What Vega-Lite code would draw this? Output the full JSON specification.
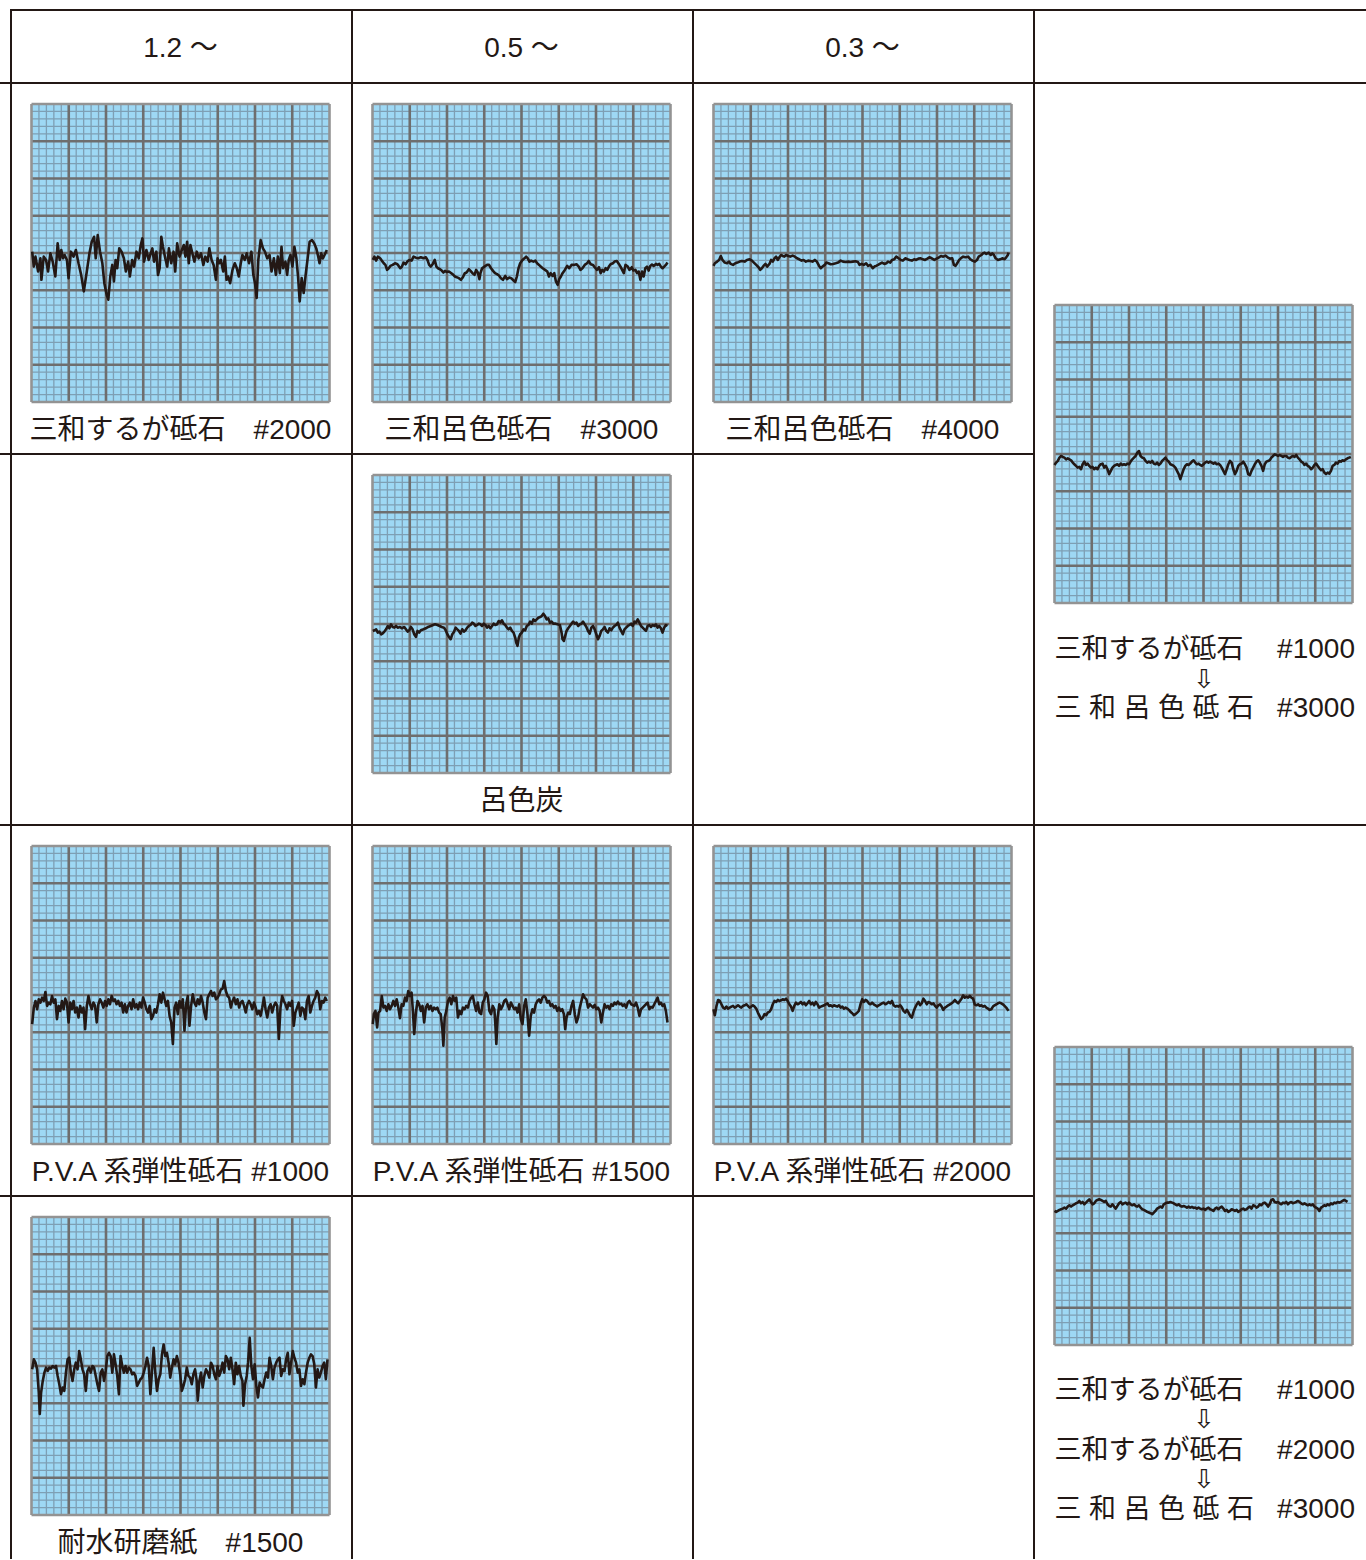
{
"$schema": "https://vega.github.io/schema/vega-lite/v6.json",
"background": "white",
"padding": {"left": 0, "top": 9, "right": 0, "bottom": 0},
"config": {"view": {"stroke": null}, "concat": {"spacing": 0}},
"datasets": {
"grid": [
{"x":22.5,"x2":22.5,"y":0,"y2":900,"k":"minor"},{"x":45,"x2":45,"y":0,"y2":900,"k":"minor"},{"x":67.5,"x2":67.5,"y":0,"y2":900,"k":"minor"},{"x":90,"x2":90,"y":0,"y2":900,"k":"minor"},
{"x":135,"x2":135,"y":0,"y2":900,"k":"minor"},{"x":157.5,"x2":157.5,"y":0,"y2":900,"k":"minor"},{"x":180,"x2":180,"y":0,"y2":900,"k":"minor"},{"x":202.5,"x2":202.5,"y":0,"y2":900,"k":"minor"},
{"x":247.5,"x2":247.5,"y":0,"y2":900,"k":"minor"},{"x":270,"x2":270,"y":0,"y2":900,"k":"minor"},{"x":292.5,"x2":292.5,"y":0,"y2":900,"k":"minor"},{"x":315,"x2":315,"y":0,"y2":900,"k":"minor"},
{"x":360,"x2":360,"y":0,"y2":900,"k":"minor"},{"x":382.5,"x2":382.5,"y":0,"y2":900,"k":"minor"},{"x":405,"x2":405,"y":0,"y2":900,"k":"minor"},{"x":427.5,"x2":427.5,"y":0,"y2":900,"k":"minor"},
{"x":472.5,"x2":472.5,"y":0,"y2":900,"k":"minor"},{"x":495,"x2":495,"y":0,"y2":900,"k":"minor"},{"x":517.5,"x2":517.5,"y":0,"y2":900,"k":"minor"},{"x":540,"x2":540,"y":0,"y2":900,"k":"minor"},
{"x":585,"x2":585,"y":0,"y2":900,"k":"minor"},{"x":607.5,"x2":607.5,"y":0,"y2":900,"k":"minor"},{"x":630,"x2":630,"y":0,"y2":900,"k":"minor"},{"x":652.5,"x2":652.5,"y":0,"y2":900,"k":"minor"},
{"x":697.5,"x2":697.5,"y":0,"y2":900,"k":"minor"},{"x":720,"x2":720,"y":0,"y2":900,"k":"minor"},{"x":742.5,"x2":742.5,"y":0,"y2":900,"k":"minor"},{"x":765,"x2":765,"y":0,"y2":900,"k":"minor"},
{"x":810,"x2":810,"y":0,"y2":900,"k":"minor"},{"x":832.5,"x2":832.5,"y":0,"y2":900,"k":"minor"},{"x":855,"x2":855,"y":0,"y2":900,"k":"minor"},{"x":877.5,"x2":877.5,"y":0,"y2":900,"k":"minor"},
{"y":22.5,"y2":22.5,"x":0,"x2":900,"k":"minor"},{"y":45,"y2":45,"x":0,"x2":900,"k":"minor"},{"y":67.5,"y2":67.5,"x":0,"x2":900,"k":"minor"},{"y":90,"y2":90,"x":0,"x2":900,"k":"minor"},
{"y":135,"y2":135,"x":0,"x2":900,"k":"minor"},{"y":157.5,"y2":157.5,"x":0,"x2":900,"k":"minor"},{"y":180,"y2":180,"x":0,"x2":900,"k":"minor"},{"y":202.5,"y2":202.5,"x":0,"x2":900,"k":"minor"},
{"y":247.5,"y2":247.5,"x":0,"x2":900,"k":"minor"},{"y":270,"y2":270,"x":0,"x2":900,"k":"minor"},{"y":292.5,"y2":292.5,"x":0,"x2":900,"k":"minor"},{"y":315,"y2":315,"x":0,"x2":900,"k":"minor"},
{"y":360,"y2":360,"x":0,"x2":900,"k":"minor"},{"y":382.5,"y2":382.5,"x":0,"x2":900,"k":"minor"},{"y":405,"y2":405,"x":0,"x2":900,"k":"minor"},{"y":427.5,"y2":427.5,"x":0,"x2":900,"k":"minor"},
{"y":472.5,"y2":472.5,"x":0,"x2":900,"k":"minor"},{"y":495,"y2":495,"x":0,"x2":900,"k":"minor"},{"y":517.5,"y2":517.5,"x":0,"x2":900,"k":"minor"},{"y":540,"y2":540,"x":0,"x2":900,"k":"minor"},
{"y":585,"y2":585,"x":0,"x2":900,"k":"minor"},{"y":607.5,"y2":607.5,"x":0,"x2":900,"k":"minor"},{"y":630,"y2":630,"x":0,"x2":900,"k":"minor"},{"y":652.5,"y2":652.5,"x":0,"x2":900,"k":"minor"},
{"y":697.5,"y2":697.5,"x":0,"x2":900,"k":"minor"},{"y":720,"y2":720,"x":0,"x2":900,"k":"minor"},{"y":742.5,"y2":742.5,"x":0,"x2":900,"k":"minor"},{"y":765,"y2":765,"x":0,"x2":900,"k":"minor"},
{"y":810,"y2":810,"x":0,"x2":900,"k":"minor"},{"y":832.5,"y2":832.5,"x":0,"x2":900,"k":"minor"},{"y":855,"y2":855,"x":0,"x2":900,"k":"minor"},{"y":877.5,"y2":877.5,"x":0,"x2":900,"k":"minor"},
{"x":112.5,"x2":112.5,"y":0,"y2":900,"k":"major"},{"x":225,"x2":225,"y":0,"y2":900,"k":"major"},{"x":337.5,"x2":337.5,"y":0,"y2":900,"k":"major"},{"x":450,"x2":450,"y":0,"y2":900,"k":"major"},{"x":562.5,"x2":562.5,"y":0,"y2":900,"k":"major"},{"x":675,"x2":675,"y":0,"y2":900,"k":"major"},{"x":787.5,"x2":787.5,"y":0,"y2":900,"k":"major"},
{"y":112.5,"y2":112.5,"x":0,"x2":900,"k":"major"},{"y":225,"y2":225,"x":0,"x2":900,"k":"major"},{"y":337.5,"y2":337.5,"x":0,"x2":900,"k":"major"},{"y":450,"y2":450,"x":0,"x2":900,"k":"major"},{"y":562.5,"y2":562.5,"x":0,"x2":900,"k":"major"},{"y":675,"y2":675,"x":0,"x2":900,"k":"major"},{"y":787.5,"y2":787.5,"x":0,"x2":900,"k":"major"},
{"x":0,"x2":0,"y":0,"y2":900,"k":"edge"},{"x":900,"x2":900,"y":0,"y2":900,"k":"edge"},{"y":0,"y2":0,"x":0,"x2":900,"k":"edge"},{"y":900,"y2":900,"x":0,"x2":900,"k":"edge"}
],
"t1": [{"x":2,"y":454},{"x":7,"y":409},{"x":12,"y":439},{"x":20,"y":394},{"x":27,"y":434},{"x":30,"y":369},{"x":37,"y":439},{"x":44,"y":429},{"x":50,"y":394},{"x":57,"y":449},{"x":64,"y":424},{"x":72,"y":379},{"x":79,"y":479},{"x":85,"y":429},{"x":90,"y":459},{"x":95,"y":434},{"x":100,"y":444},{"x":107,"y":429},{"x":112,"y":374},{"x":119,"y":454},{"x":127,"y":439},{"x":134,"y":459},{"x":142,"y":419},{"x":150,"y":384},{"x":158,"y":334},{"x":167,"y":394},{"x":175,"y":449},{"x":182,"y":484},{"x":189,"y":499},{"x":194,"y":434},{"x":200,"y":504},{"x":207,"y":454},{"x":214,"y":419},{"x":220,"y":359},{"x":227,"y":324},{"x":232,"y":309},{"x":238,"y":379},{"x":244,"y":414},{"x":249,"y":364},{"x":254,"y":429},{"x":259,"y":404},{"x":265,"y":464},{"x":272,"y":454},{"x":279,"y":434},{"x":285,"y":394},{"x":292,"y":424},{"x":297,"y":379},{"x":304,"y":429},{"x":310,"y":409},{"x":317,"y":454},{"x":324,"y":434},{"x":330,"y":474},{"x":335,"y":494},{"x":340,"y":424},{"x":347,"y":459},{"x":354,"y":429},{"x":360,"y":449},{"x":365,"y":464},{"x":370,"y":424},{"x":377,"y":454},{"x":382,"y":384},{"x":387,"y":404},{"x":392,"y":499},{"x":397,"y":469},{"x":404,"y":434},{"x":410,"y":409},{"x":415,"y":464},{"x":422,"y":419},{"x":429,"y":454},{"x":434,"y":394},{"x":440,"y":479},{"x":447,"y":439},{"x":454,"y":459},{"x":460,"y":474},{"x":465,"y":439},{"x":470,"y":484},{"x":475,"y":419},{"x":480,"y":474},{"x":487,"y":444},{"x":492,"y":424},{"x":499,"y":454},{"x":505,"y":434},{"x":512,"y":449},{"x":519,"y":414},{"x":525,"y":439},{"x":532,"y":424},{"x":537,"y":464},{"x":544,"y":429},{"x":550,"y":414},{"x":557,"y":369},{"x":562,"y":434},{"x":567,"y":419},{"x":572,"y":429},{"x":579,"y":394},{"x":584,"y":439},{"x":589,"y":369},{"x":594,"y":379},{"x":600,"y":359},{"x":607,"y":399},{"x":614,"y":419},{"x":620,"y":404},{"x":626,"y":379},{"x":632,"y":419},{"x":637,"y":444},{"x":644,"y":429},{"x":650,"y":449},{"x":657,"y":419},{"x":664,"y":454},{"x":670,"y":384},{"x":675,"y":359},{"x":680,"y":314},{"x":685,"y":429},{"x":692,"y":489},{"x":699,"y":464},{"x":705,"y":454},{"x":712,"y":434},{"x":719,"y":444},{"x":725,"y":394},{"x":732,"y":434},{"x":738,"y":384},{"x":744,"y":439},{"x":750,"y":389},{"x":755,"y":469},{"x":760,"y":404},{"x":767,"y":424},{"x":772,"y":384},{"x":777,"y":429},{"x":782,"y":444},{"x":788,"y":409},{"x":794,"y":469},{"x":800,"y":434},{"x":805,"y":379},{"x":810,"y":304},{"x":816,"y":374},{"x":822,"y":329},{"x":828,"y":384},{"x":834,"y":434},{"x":840,"y":484},{"x":847,"y":489},{"x":854,"y":479},{"x":860,"y":464},{"x":866,"y":439},{"x":870,"y":419},{"x":875,"y":449},{"x":880,"y":434},{"x":885,"y":444},{"x":892,"y":459}],
"t2": [{"x":1,"y":429},{"x":6,"y":439},{"x":11,"y":427},{"x":16,"y":439},{"x":23,"y":434},{"x":28,"y":427},{"x":34,"y":419},{"x":39,"y":414},{"x":44,"y":399},{"x":49,"y":404},{"x":54,"y":411},{"x":61,"y":414},{"x":68,"y":419},{"x":74,"y":417},{"x":79,"y":411},{"x":84,"y":404},{"x":89,"y":409},{"x":94,"y":421},{"x":100,"y":416},{"x":105,"y":424},{"x":111,"y":429},{"x":118,"y":427},{"x":124,"y":439},{"x":131,"y":436},{"x":138,"y":434},{"x":146,"y":437},{"x":154,"y":434},{"x":161,"y":437},{"x":166,"y":429},{"x":171,"y":414},{"x":176,"y":409},{"x":182,"y":417},{"x":188,"y":429},{"x":193,"y":409},{"x":198,"y":404},{"x":204,"y":401},{"x":209,"y":397},{"x":214,"y":391},{"x":219,"y":396},{"x":224,"y":393},{"x":231,"y":394},{"x":238,"y":389},{"x":244,"y":384},{"x":249,"y":379},{"x":254,"y":377},{"x":261,"y":374},{"x":267,"y":369},{"x":273,"y":377},{"x":279,"y":389},{"x":284,"y":391},{"x":291,"y":401},{"x":296,"y":396},{"x":302,"y":389},{"x":308,"y":384},{"x":313,"y":399},{"x":318,"y":391},{"x":323,"y":371},{"x":326,"y":389},{"x":331,"y":404},{"x":338,"y":409},{"x":346,"y":414},{"x":352,"y":414},{"x":358,"y":404},{"x":364,"y":396},{"x":370,"y":389},{"x":376,"y":386},{"x":382,"y":382},{"x":388,"y":374},{"x":394,"y":369},{"x":401,"y":381},{"x":406,"y":371},{"x":413,"y":376},{"x":419,"y":374},{"x":426,"y":367},{"x":431,"y":362},{"x":436,"y":379},{"x":441,"y":404},{"x":446,"y":419},{"x":453,"y":429},{"x":459,"y":434},{"x":464,"y":439},{"x":469,"y":434},{"x":474,"y":424},{"x":479,"y":427},{"x":486,"y":424},{"x":492,"y":427},{"x":497,"y":419},{"x":503,"y":414},{"x":508,"y":409},{"x":514,"y":404},{"x":521,"y":399},{"x":528,"y":394},{"x":533,"y":379},{"x":538,"y":389},{"x":544,"y":381},{"x":549,"y":389},{"x":554,"y":364},{"x":559,"y":354},{"x":564,"y":371},{"x":569,"y":379},{"x":574,"y":389},{"x":581,"y":399},{"x":588,"y":411},{"x":594,"y":404},{"x":601,"y":414},{"x":608,"y":414},{"x":616,"y":416},{"x":623,"y":409},{"x":628,"y":399},{"x":634,"y":404},{"x":641,"y":414},{"x":648,"y":419},{"x":653,"y":426},{"x":659,"y":416},{"x":666,"y":414},{"x":671,"y":407},{"x":678,"y":399},{"x":684,"y":407},{"x":689,"y":389},{"x":694,"y":399},{"x":699,"y":394},{"x":704,"y":404},{"x":709,"y":399},{"x":714,"y":409},{"x":719,"y":416},{"x":726,"y":419},{"x":731,"y":424},{"x":738,"y":426},{"x":744,"y":417},{"x":749,"y":409},{"x":754,"y":399},{"x":759,"y":389},{"x":764,"y":414},{"x":771,"y":409},{"x":776,"y":399},{"x":783,"y":407},{"x":788,"y":397},{"x":794,"y":399},{"x":799,"y":389},{"x":804,"y":394},{"x":809,"y":369},{"x":814,"y":394},{"x":819,"y":379},{"x":824,"y":404},{"x":829,"y":409},{"x":834,"y":397},{"x":839,"y":411},{"x":844,"y":415},{"x":849,"y":411},{"x":856,"y":417},{"x":861,"y":414},{"x":866,"y":417},{"x":871,"y":409},{"x":876,"y":404},{"x":881,"y":409},{"x":886,"y":414},{"x":891,"y":421}],
"t3": [{"x":0,"y":411},{"x":4,"y":419},{"x":11,"y":424},{"x":17,"y":429},{"x":22,"y":441},{"x":27,"y":429},{"x":34,"y":421},{"x":41,"y":419},{"x":47,"y":424},{"x":52,"y":417},{"x":59,"y":414},{"x":66,"y":419},{"x":72,"y":421},{"x":79,"y":424},{"x":86,"y":426},{"x":94,"y":424},{"x":101,"y":429},{"x":109,"y":431},{"x":116,"y":427},{"x":122,"y":421},{"x":129,"y":414},{"x":136,"y":407},{"x":141,"y":399},{"x":146,"y":404},{"x":151,"y":411},{"x":157,"y":417},{"x":162,"y":409},{"x":169,"y":417},{"x":174,"y":429},{"x":179,"y":424},{"x":184,"y":434},{"x":189,"y":439},{"x":194,"y":429},{"x":199,"y":437},{"x":204,"y":444},{"x":209,"y":441},{"x":214,"y":439},{"x":219,"y":444},{"x":226,"y":441},{"x":232,"y":439},{"x":239,"y":442},{"x":246,"y":439},{"x":252,"y":434},{"x":259,"y":431},{"x":266,"y":427},{"x":272,"y":429},{"x":279,"y":424},{"x":286,"y":427},{"x":292,"y":426},{"x":299,"y":424},{"x":306,"y":429},{"x":312,"y":424},{"x":319,"y":411},{"x":324,"y":404},{"x":329,"y":409},{"x":336,"y":414},{"x":341,"y":421},{"x":347,"y":419},{"x":354,"y":416},{"x":361,"y":417},{"x":369,"y":419},{"x":376,"y":421},{"x":384,"y":427},{"x":391,"y":424},{"x":399,"y":423},{"x":407,"y":424},{"x":414,"y":423},{"x":421,"y":424},{"x":429,"y":425},{"x":436,"y":423},{"x":441,"y":414},{"x":447,"y":417},{"x":454,"y":414},{"x":461,"y":419},{"x":467,"y":411},{"x":474,"y":414},{"x":481,"y":404},{"x":486,"y":409},{"x":491,"y":411},{"x":497,"y":414},{"x":502,"y":417},{"x":509,"y":421},{"x":516,"y":417},{"x":522,"y":419},{"x":527,"y":424},{"x":534,"y":421},{"x":539,"y":429},{"x":546,"y":431},{"x":552,"y":439},{"x":559,"y":434},{"x":566,"y":429},{"x":572,"y":427},{"x":579,"y":434},{"x":586,"y":431},{"x":592,"y":429},{"x":599,"y":427},{"x":606,"y":431},{"x":612,"y":429},{"x":619,"y":433},{"x":626,"y":434},{"x":632,"y":431},{"x":639,"y":429},{"x":646,"y":433},{"x":652,"y":437},{"x":659,"y":434},{"x":667,"y":429},{"x":674,"y":433},{"x":681,"y":437},{"x":687,"y":441},{"x":694,"y":439},{"x":701,"y":442},{"x":707,"y":437},{"x":714,"y":433},{"x":721,"y":434},{"x":726,"y":414},{"x":731,"y":411},{"x":736,"y":419},{"x":742,"y":429},{"x":747,"y":434},{"x":754,"y":439},{"x":761,"y":437},{"x":769,"y":439},{"x":776,"y":431},{"x":782,"y":427},{"x":789,"y":424},{"x":796,"y":429},{"x":801,"y":439},{"x":809,"y":444},{"x":814,"y":449},{"x":819,"y":451},{"x":824,"y":447},{"x":831,"y":451},{"x":837,"y":444},{"x":842,"y":449},{"x":847,"y":444},{"x":852,"y":434},{"x":859,"y":429},{"x":866,"y":431},{"x":872,"y":434},{"x":879,"y":431},{"x":884,"y":437},{"x":889,"y":444},{"x":891,"y":451}],
"t4": [{"x":1,"y":429},{"x":6,"y":431},{"x":11,"y":434},{"x":16,"y":424},{"x":21,"y":427},{"x":26,"y":419},{"x":31,"y":422},{"x":36,"y":427},{"x":41,"y":434},{"x":46,"y":444},{"x":51,"y":437},{"x":56,"y":449},{"x":61,"y":441},{"x":66,"y":439},{"x":71,"y":444},{"x":76,"y":439},{"x":83,"y":441},{"x":89,"y":437},{"x":96,"y":441},{"x":101,"y":434},{"x":106,"y":427},{"x":111,"y":431},{"x":116,"y":441},{"x":121,"y":434},{"x":126,"y":419},{"x":131,"y":411},{"x":136,"y":429},{"x":141,"y":424},{"x":146,"y":431},{"x":154,"y":434},{"x":161,"y":437},{"x":168,"y":441},{"x":176,"y":444},{"x":183,"y":447},{"x":189,"y":449},{"x":196,"y":447},{"x":203,"y":444},{"x":209,"y":441},{"x":216,"y":439},{"x":221,"y":431},{"x":226,"y":419},{"x":231,"y":411},{"x":236,"y":404},{"x":241,"y":419},{"x":246,"y":426},{"x":251,"y":439},{"x":256,"y":434},{"x":261,"y":429},{"x":266,"y":421},{"x":271,"y":434},{"x":276,"y":427},{"x":281,"y":431},{"x":286,"y":439},{"x":291,"y":444},{"x":296,"y":447},{"x":301,"y":454},{"x":306,"y":451},{"x":311,"y":444},{"x":316,"y":447},{"x":321,"y":451},{"x":326,"y":449},{"x":331,"y":444},{"x":336,"y":451},{"x":341,"y":447},{"x":346,"y":439},{"x":351,"y":444},{"x":356,"y":437},{"x":361,"y":444},{"x":366,"y":451},{"x":371,"y":447},{"x":376,"y":449},{"x":381,"y":459},{"x":386,"y":454},{"x":391,"y":461},{"x":396,"y":451},{"x":401,"y":447},{"x":406,"y":439},{"x":411,"y":434},{"x":416,"y":439},{"x":421,"y":429},{"x":426,"y":424},{"x":431,"y":409},{"x":434,"y":394},{"x":438,"y":384},{"x":442,"y":409},{"x":446,"y":419},{"x":451,"y":424},{"x":456,"y":434},{"x":461,"y":431},{"x":466,"y":444},{"x":471,"y":447},{"x":476,"y":457},{"x":481,"y":451},{"x":486,"y":464},{"x":491,"y":459},{"x":496,"y":464},{"x":501,"y":469},{"x":506,"y":471},{"x":511,"y":474},{"x":516,"y":481},{"x":521,"y":474},{"x":526,"y":464},{"x":531,"y":467},{"x":536,"y":454},{"x":541,"y":457},{"x":546,"y":451},{"x":553,"y":451},{"x":559,"y":449},{"x":566,"y":447},{"x":571,"y":424},{"x":574,"y":404},{"x":578,"y":399},{"x":582,"y":414},{"x":586,"y":429},{"x":591,"y":437},{"x":596,"y":444},{"x":601,"y":451},{"x":606,"y":457},{"x":611,"y":451},{"x":616,"y":454},{"x":621,"y":444},{"x":626,"y":449},{"x":631,"y":451},{"x":636,"y":457},{"x":641,"y":449},{"x":646,"y":441},{"x":651,"y":429},{"x":656,"y":421},{"x":661,"y":439},{"x":666,"y":444},{"x":671,"y":434},{"x":676,"y":419},{"x":681,"y":404},{"x":686,"y":414},{"x":691,"y":429},{"x":696,"y":434},{"x":701,"y":441},{"x":706,"y":429},{"x":711,"y":424},{"x":716,"y":437},{"x":721,"y":431},{"x":726,"y":439},{"x":731,"y":444},{"x":736,"y":447},{"x":741,"y":454},{"x":746,"y":439},{"x":751,"y":429},{"x":756,"y":419},{"x":761,"y":434},{"x":766,"y":439},{"x":771,"y":444},{"x":776,"y":447},{"x":781,"y":451},{"x":786,"y":444},{"x":791,"y":457},{"x":796,"y":454},{"x":801,"y":464},{"x":806,"y":454},{"x":811,"y":444},{"x":816,"y":439},{"x":821,"y":434},{"x":826,"y":429},{"x":831,"y":444},{"x":836,"y":447},{"x":841,"y":441},{"x":846,"y":447},{"x":851,"y":444},{"x":856,"y":449},{"x":861,"y":439},{"x":866,"y":444},{"x":871,"y":437},{"x":876,"y":424},{"x":881,"y":439},{"x":886,"y":447},{"x":891,"y":444}],
"t5": [{"x":2,"y":362},{"x":7,"y":412},{"x":12,"y":432},{"x":17,"y":407},{"x":22,"y":437},{"x":27,"y":427},{"x":32,"y":442},{"x":37,"y":432},{"x":42,"y":459},{"x":47,"y":417},{"x":52,"y":427},{"x":57,"y":422},{"x":62,"y":447},{"x":67,"y":427},{"x":72,"y":437},{"x":77,"y":377},{"x":82,"y":417},{"x":87,"y":402},{"x":92,"y":432},{"x":97,"y":407},{"x":102,"y":439},{"x":107,"y":427},{"x":112,"y":367},{"x":117,"y":427},{"x":122,"y":407},{"x":127,"y":432},{"x":132,"y":397},{"x":137,"y":412},{"x":142,"y":382},{"x":147,"y":417},{"x":152,"y":397},{"x":157,"y":412},{"x":162,"y":347},{"x":167,"y":417},{"x":172,"y":447},{"x":177,"y":422},{"x":182,"y":407},{"x":187,"y":427},{"x":192,"y":417},{"x":197,"y":367},{"x":202,"y":422},{"x":207,"y":437},{"x":212,"y":427},{"x":217,"y":412},{"x":222,"y":432},{"x":227,"y":417},{"x":232,"y":437},{"x":237,"y":422},{"x":242,"y":447},{"x":247,"y":432},{"x":252,"y":437},{"x":257,"y":422},{"x":262,"y":432},{"x":267,"y":417},{"x":272,"y":427},{"x":277,"y":397},{"x":282,"y":422},{"x":287,"y":397},{"x":292,"y":417},{"x":297,"y":427},{"x":302,"y":407},{"x":307,"y":437},{"x":312,"y":412},{"x":317,"y":422},{"x":322,"y":407},{"x":327,"y":427},{"x":332,"y":412},{"x":337,"y":442},{"x":342,"y":427},{"x":347,"y":407},{"x":352,"y":397},{"x":357,"y":417},{"x":362,"y":377},{"x":367,"y":387},{"x":372,"y":407},{"x":377,"y":397},{"x":382,"y":422},{"x":387,"y":452},{"x":392,"y":427},{"x":397,"y":457},{"x":402,"y":437},{"x":407,"y":417},{"x":412,"y":432},{"x":417,"y":387},{"x":422,"y":367},{"x":427,"y":302},{"x":432,"y":412},{"x":437,"y":427},{"x":442,"y":392},{"x":447,"y":432},{"x":452,"y":412},{"x":457,"y":437},{"x":462,"y":342},{"x":467,"y":422},{"x":472,"y":447},{"x":477,"y":357},{"x":482,"y":417},{"x":487,"y":452},{"x":492,"y":427},{"x":497,"y":417},{"x":502,"y":437},{"x":507,"y":422},{"x":512,"y":447},{"x":517,"y":427},{"x":522,"y":397},{"x":527,"y":377},{"x":532,"y":442},{"x":537,"y":452},{"x":542,"y":462},{"x":547,"y":447},{"x":552,"y":457},{"x":557,"y":437},{"x":562,"y":442},{"x":567,"y":452},{"x":572,"y":467},{"x":577,"y":469},{"x":582,"y":492},{"x":587,"y":462},{"x":592,"y":447},{"x":597,"y":442},{"x":602,"y":412},{"x":607,"y":432},{"x":612,"y":442},{"x":617,"y":422},{"x":622,"y":437},{"x":627,"y":412},{"x":632,"y":427},{"x":637,"y":432},{"x":642,"y":417},{"x":647,"y":397},{"x":652,"y":422},{"x":657,"y":432},{"x":662,"y":422},{"x":667,"y":407},{"x":672,"y":427},{"x":677,"y":412},{"x":682,"y":392},{"x":687,"y":402},{"x":692,"y":387},{"x":697,"y":412},{"x":702,"y":442},{"x":707,"y":407},{"x":712,"y":382},{"x":717,"y":412},{"x":722,"y":422},{"x":727,"y":397},{"x":732,"y":417},{"x":737,"y":427},{"x":742,"y":417},{"x":747,"y":317},{"x":752,"y":412},{"x":757,"y":447},{"x":762,"y":432},{"x":767,"y":422},{"x":772,"y":407},{"x":777,"y":427},{"x":782,"y":417},{"x":787,"y":432},{"x":792,"y":357},{"x":797,"y":397},{"x":802,"y":412},{"x":807,"y":427},{"x":812,"y":387},{"x":817,"y":412},{"x":822,"y":407},{"x":827,"y":377},{"x":832,"y":432},{"x":837,"y":447},{"x":842,"y":397},{"x":847,"y":417},{"x":852,"y":432},{"x":857,"y":442},{"x":862,"y":462},{"x":867,"y":452},{"x":872,"y":407},{"x":877,"y":432},{"x":882,"y":427},{"x":887,"y":442},{"x":892,"y":432}],
"t6": [{"x":1,"y":362},{"x":4,"y":392},{"x":9,"y":402},{"x":14,"y":352},{"x":18,"y":397},{"x":23,"y":402},{"x":28,"y":447},{"x":33,"y":412},{"x":38,"y":417},{"x":43,"y":402},{"x":48,"y":422},{"x":53,"y":407},{"x":58,"y":417},{"x":63,"y":432},{"x":68,"y":417},{"x":73,"y":437},{"x":78,"y":412},{"x":83,"y":380},{"x":88,"y":422},{"x":93,"y":417},{"x":98,"y":442},{"x":103,"y":432},{"x":108,"y":462},{"x":113,"y":447},{"x":118,"y":457},{"x":122,"y":402},{"x":126,"y":332},{"x":131,"y":397},{"x":136,"y":432},{"x":141,"y":422},{"x":146,"y":402},{"x":151,"y":417},{"x":156,"y":367},{"x":161,"y":412},{"x":166,"y":422},{"x":171,"y":407},{"x":176,"y":417},{"x":181,"y":402},{"x":186,"y":412},{"x":191,"y":407},{"x":196,"y":412},{"x":201,"y":397},{"x":206,"y":392},{"x":211,"y":347},{"x":214,"y":297},{"x":218,"y":382},{"x":223,"y":402},{"x":228,"y":432},{"x":233,"y":442},{"x":238,"y":422},{"x":243,"y":447},{"x":248,"y":432},{"x":253,"y":442},{"x":258,"y":382},{"x":263,"y":402},{"x":268,"y":392},{"x":273,"y":412},{"x":278,"y":407},{"x":283,"y":417},{"x":288,"y":412},{"x":293,"y":432},{"x":298,"y":442},{"x":303,"y":447},{"x":308,"y":422},{"x":313,"y":402},{"x":318,"y":427},{"x":323,"y":397},{"x":328,"y":392},{"x":333,"y":427},{"x":338,"y":437},{"x":343,"y":457},{"x":348,"y":447},{"x":353,"y":402},{"x":358,"y":392},{"x":363,"y":417},{"x":368,"y":407},{"x":371,"y":362},{"x":374,"y":302},{"x":378,"y":382},{"x":383,"y":422},{"x":388,"y":407},{"x":393,"y":417},{"x":398,"y":432},{"x":403,"y":437},{"x":408,"y":422},{"x":413,"y":407},{"x":418,"y":427},{"x":423,"y":417},{"x":428,"y":407},{"x":433,"y":412},{"x":438,"y":397},{"x":443,"y":422},{"x":448,"y":377},{"x":453,"y":362},{"x":458,"y":417},{"x":463,"y":437},{"x":468,"y":392},{"x":473,"y":327},{"x":478,"y":387},{"x":483,"y":407},{"x":488,"y":397},{"x":493,"y":422},{"x":498,"y":432},{"x":503,"y":437},{"x":508,"y":427},{"x":513,"y":442},{"x":518,"y":447},{"x":523,"y":442},{"x":528,"y":427},{"x":533,"y":432},{"x":538,"y":417},{"x":543,"y":422},{"x":548,"y":412},{"x":553,"y":417},{"x":558,"y":402},{"x":563,"y":412},{"x":568,"y":402},{"x":573,"y":407},{"x":578,"y":392},{"x":582,"y":347},{"x":586,"y":382},{"x":591,"y":397},{"x":596,"y":392},{"x":601,"y":417},{"x":606,"y":432},{"x":611,"y":392},{"x":616,"y":367},{"x":621,"y":382},{"x":626,"y":412},{"x":631,"y":432},{"x":636,"y":452},{"x":641,"y":442},{"x":646,"y":437},{"x":651,"y":412},{"x":656,"y":422},{"x":661,"y":417},{"x":666,"y":412},{"x":671,"y":420},{"x":676,"y":407},{"x":681,"y":412},{"x":686,"y":402},{"x":691,"y":367},{"x":696,"y":397},{"x":701,"y":422},{"x":706,"y":412},{"x":711,"y":417},{"x":716,"y":407},{"x":721,"y":422},{"x":726,"y":417},{"x":731,"y":427},{"x":736,"y":422},{"x":741,"y":430},{"x":746,"y":422},{"x":751,"y":424},{"x":756,"y":417},{"x":761,"y":422},{"x":766,"y":412},{"x":771,"y":427},{"x":776,"y":432},{"x":781,"y":422},{"x":786,"y":420},{"x":791,"y":417},{"x":796,"y":427},{"x":801,"y":412},{"x":806,"y":387},{"x":811,"y":407},{"x":816,"y":412},{"x":821,"y":417},{"x":826,"y":422},{"x":831,"y":427},{"x":836,"y":407},{"x":841,"y":414},{"x":846,"y":412},{"x":851,"y":422},{"x":856,"y":432},{"x":861,"y":442},{"x":866,"y":422},{"x":871,"y":427},{"x":876,"y":417},{"x":881,"y":422},{"x":886,"y":402},{"x":891,"y":367}],
"t7": [{"x":0,"y":407},{"x":4,"y":389},{"x":9,"y":417},{"x":14,"y":435},{"x":19,"y":432},{"x":24,"y":422},{"x":29,"y":412},{"x":34,"y":409},{"x":39,"y":415},{"x":44,"y":409},{"x":49,"y":412},{"x":54,"y":415},{"x":59,"y":417},{"x":64,"y":412},{"x":69,"y":415},{"x":74,"y":419},{"x":79,"y":415},{"x":84,"y":412},{"x":89,"y":417},{"x":94,"y":419},{"x":99,"y":422},{"x":104,"y":417},{"x":109,"y":412},{"x":114,"y":415},{"x":119,"y":419},{"x":124,"y":415},{"x":129,"y":409},{"x":134,"y":397},{"x":139,"y":387},{"x":144,"y":377},{"x":149,"y":382},{"x":154,"y":392},{"x":159,"y":389},{"x":164,"y":397},{"x":169,"y":399},{"x":174,"y":407},{"x":179,"y":422},{"x":184,"y":432},{"x":189,"y":429},{"x":194,"y":435},{"x":199,"y":432},{"x":204,"y":434},{"x":209,"y":437},{"x":214,"y":435},{"x":219,"y":439},{"x":224,"y":432},{"x":229,"y":422},{"x":234,"y":415},{"x":239,"y":402},{"x":244,"y":417},{"x":249,"y":427},{"x":254,"y":422},{"x":259,"y":425},{"x":264,"y":429},{"x":269,"y":422},{"x":274,"y":427},{"x":279,"y":419},{"x":284,"y":425},{"x":289,"y":432},{"x":294,"y":422},{"x":299,"y":427},{"x":304,"y":419},{"x":309,"y":429},{"x":314,"y":422},{"x":319,"y":412},{"x":324,"y":415},{"x":329,"y":417},{"x":334,"y":419},{"x":339,"y":422},{"x":344,"y":425},{"x":349,"y":417},{"x":354,"y":419},{"x":359,"y":415},{"x":364,"y":419},{"x":369,"y":417},{"x":374,"y":415},{"x":379,"y":419},{"x":384,"y":412},{"x":389,"y":415},{"x":394,"y":409},{"x":399,"y":412},{"x":404,"y":409},{"x":409,"y":405},{"x":414,"y":399},{"x":419,"y":395},{"x":424,"y":389},{"x":429,"y":392},{"x":434,"y":397},{"x":439,"y":402},{"x":444,"y":422},{"x":449,"y":437},{"x":454,"y":429},{"x":459,"y":435},{"x":464,"y":432},{"x":469,"y":425},{"x":474,"y":422},{"x":479,"y":427},{"x":484,"y":422},{"x":489,"y":419},{"x":494,"y":415},{"x":499,"y":419},{"x":504,"y":422},{"x":509,"y":425},{"x":514,"y":427},{"x":519,"y":422},{"x":524,"y":425},{"x":529,"y":429},{"x":534,"y":425},{"x":539,"y":432},{"x":544,"y":419},{"x":549,"y":415},{"x":554,"y":417},{"x":559,"y":415},{"x":564,"y":419},{"x":569,"y":412},{"x":574,"y":402},{"x":579,"y":397},{"x":584,"y":405},{"x":589,"y":397},{"x":594,"y":387},{"x":599,"y":382},{"x":604,"y":399},{"x":609,"y":412},{"x":614,"y":422},{"x":619,"y":429},{"x":624,"y":419},{"x":629,"y":425},{"x":634,"y":439},{"x":639,"y":432},{"x":644,"y":422},{"x":649,"y":429},{"x":654,"y":427},{"x":659,"y":422},{"x":664,"y":425},{"x":669,"y":417},{"x":674,"y":412},{"x":679,"y":419},{"x":684,"y":422},{"x":689,"y":415},{"x":694,"y":405},{"x":699,"y":412},{"x":704,"y":415},{"x":709,"y":419},{"x":714,"y":422},{"x":719,"y":425},{"x":724,"y":429},{"x":729,"y":435},{"x":734,"y":429},{"x":739,"y":425},{"x":744,"y":432},{"x":749,"y":439},{"x":754,"y":449},{"x":759,"y":442},{"x":764,"y":445},{"x":769,"y":442},{"x":774,"y":447},{"x":779,"y":442},{"x":784,"y":439},{"x":789,"y":422},{"x":794,"y":419},{"x":799,"y":422},{"x":804,"y":417},{"x":809,"y":419},{"x":814,"y":415},{"x":819,"y":417},{"x":824,"y":412},{"x":829,"y":409},{"x":834,"y":405},{"x":839,"y":407},{"x":844,"y":415},{"x":849,"y":419},{"x":854,"y":422},{"x":859,"y":425},{"x":864,"y":427},{"x":869,"y":425},{"x":874,"y":422},{"x":879,"y":417},{"x":884,"y":412},{"x":889,"y":405},{"x":891,"y":402}],
"t8": [{"x":2,"y":440},{"x":7,"y":470},{"x":12,"y":460},{"x":17,"y":440},{"x":22,"y":370},{"x":25,"y":305},{"x":29,"y":370},{"x":34,"y":405},{"x":39,"y":430},{"x":44,"y":445},{"x":49,"y":435},{"x":54,"y":445},{"x":59,"y":442},{"x":64,"y":450},{"x":69,"y":445},{"x":74,"y":450},{"x":79,"y":420},{"x":84,"y":395},{"x":89,"y":365},{"x":94,"y":385},{"x":99,"y":375},{"x":104,"y":430},{"x":109,"y":470},{"x":114,"y":475},{"x":119,"y":430},{"x":124,"y":405},{"x":129,"y":440},{"x":134,"y":460},{"x":139,"y":440},{"x":144,"y":495},{"x":149,"y":470},{"x":154,"y":440},{"x":159,"y":425},{"x":164,"y":375},{"x":169,"y":435},{"x":174,"y":445},{"x":179,"y":430},{"x":184,"y":450},{"x":189,"y":445},{"x":194,"y":420},{"x":199,"y":395},{"x":204,"y":375},{"x":209,"y":430},{"x":214,"y":440},{"x":219,"y":405},{"x":224,"y":435},{"x":229,"y":480},{"x":234,"y":490},{"x":239,"y":480},{"x":244,"y":430},{"x":249,"y":485},{"x":254,"y":455},{"x":259,"y":420},{"x":264,"y":365},{"x":269,"y":480},{"x":274,"y":450},{"x":279,"y":430},{"x":284,"y":450},{"x":289,"y":430},{"x":294,"y":445},{"x":299,"y":440},{"x":304,"y":425},{"x":309,"y":430},{"x":314,"y":420},{"x":319,"y":390},{"x":324,"y":400},{"x":329,"y":410},{"x":334,"y":415},{"x":339,"y":430},{"x":344,"y":450},{"x":349,"y":475},{"x":354,"y":450},{"x":359,"y":365},{"x":364,"y":435},{"x":369,"y":505},{"x":374,"y":430},{"x":379,"y":375},{"x":384,"y":410},{"x":389,"y":425},{"x":394,"y":485},{"x":399,"y":515},{"x":404,"y":480},{"x":409,"y":490},{"x":414,"y":460},{"x":419,"y":415},{"x":424,"y":445},{"x":429,"y":470},{"x":434,"y":455},{"x":439,"y":480},{"x":444,"y":460},{"x":449,"y":425},{"x":454,"y":375},{"x":459,"y":390},{"x":464,"y":410},{"x":469,"y":445},{"x":474,"y":420},{"x":479,"y":415},{"x":484,"y":395},{"x":489,"y":425},{"x":494,"y":440},{"x":499,"y":405},{"x":502,"y":345},{"x":507,"y":405},{"x":512,"y":430},{"x":517,"y":385},{"x":522,"y":420},{"x":527,"y":440},{"x":532,"y":430},{"x":537,"y":415},{"x":542,"y":460},{"x":547,"y":450},{"x":552,"y":425},{"x":557,"y":410},{"x":562,"y":450},{"x":567,"y":420},{"x":572,"y":435},{"x":577,"y":460},{"x":582,"y":430},{"x":587,"y":480},{"x":592,"y":470},{"x":597,"y":440},{"x":602,"y":475},{"x":607,"y":440},{"x":612,"y":395},{"x":617,"y":460},{"x":622,"y":425},{"x":627,"y":450},{"x":632,"y":420},{"x":637,"y":405},{"x":640,"y":330},{"x":645,"y":395},{"x":650,"y":420},{"x":654,"y":460},{"x":659,"y":535},{"x":664,"y":450},{"x":669,"y":410},{"x":674,"y":455},{"x":679,"y":390},{"x":684,"y":355},{"x":689,"y":400},{"x":694,"y":390},{"x":699,"y":385},{"x":704,"y":410},{"x":709,"y":430},{"x":714,"y":415},{"x":719,"y":475},{"x":724,"y":450},{"x":729,"y":410},{"x":734,"y":445},{"x":739,"y":460},{"x":744,"y":470},{"x":749,"y":475},{"x":754,"y":420},{"x":759,"y":440},{"x":764,"y":435},{"x":769,"y":470},{"x":774,"y":490},{"x":779,"y":425},{"x":784,"y":460},{"x":789,"y":495},{"x":794,"y":475},{"x":799,"y":460},{"x":804,"y":430},{"x":809,"y":440},{"x":814,"y":390},{"x":819,"y":410},{"x":824,"y":395},{"x":829,"y":430},{"x":834,"y":460},{"x":839,"y":475},{"x":844,"y":485},{"x":849,"y":480},{"x":854,"y":455},{"x":859,"y":385},{"x":864,"y":440},{"x":869,"y":415},{"x":874,"y":430},{"x":879,"y":450},{"x":884,"y":460},{"x":889,"y":410},{"x":894,"y":470}],
"t9": [{"x":0,"y":417},{"x":5,"y":424},{"x":10,"y":429},{"x":15,"y":439},{"x":20,"y":444},{"x":25,"y":441},{"x":30,"y":439},{"x":35,"y":434},{"x":40,"y":437},{"x":45,"y":434},{"x":50,"y":431},{"x":55,"y":424},{"x":60,"y":419},{"x":65,"y":414},{"x":70,"y":409},{"x":75,"y":411},{"x":80,"y":404},{"x":85,"y":419},{"x":90,"y":427},{"x":95,"y":417},{"x":100,"y":421},{"x":105,"y":414},{"x":110,"y":409},{"x":115,"y":411},{"x":120,"y":404},{"x":125,"y":409},{"x":130,"y":404},{"x":135,"y":414},{"x":140,"y":419},{"x":145,"y":421},{"x":150,"y":409},{"x":155,"y":414},{"x":160,"y":404},{"x":165,"y":389},{"x":170,"y":399},{"x":175,"y":409},{"x":180,"y":414},{"x":185,"y":417},{"x":190,"y":419},{"x":195,"y":414},{"x":200,"y":421},{"x":205,"y":417},{"x":210,"y":419},{"x":215,"y":417},{"x":220,"y":421},{"x":225,"y":419},{"x":230,"y":427},{"x":235,"y":434},{"x":240,"y":439},{"x":245,"y":444},{"x":250,"y":454},{"x":255,"y":459},{"x":260,"y":444},{"x":265,"y":439},{"x":270,"y":437},{"x":275,"y":429},{"x":280,"y":424},{"x":285,"y":427},{"x":290,"y":424},{"x":295,"y":429},{"x":300,"y":421},{"x":305,"y":419},{"x":310,"y":424},{"x":315,"y":417},{"x":320,"y":421},{"x":325,"y":429},{"x":330,"y":434},{"x":335,"y":439},{"x":340,"y":431},{"x":345,"y":427},{"x":350,"y":419},{"x":355,"y":417},{"x":360,"y":414},{"x":365,"y":409},{"x":370,"y":399},{"x":375,"y":389},{"x":380,"y":374},{"x":385,"y":389},{"x":390,"y":404},{"x":395,"y":414},{"x":400,"y":419},{"x":405,"y":417},{"x":410,"y":421},{"x":415,"y":427},{"x":420,"y":431},{"x":425,"y":424},{"x":430,"y":419},{"x":435,"y":421},{"x":440,"y":417},{"x":445,"y":414},{"x":450,"y":419},{"x":455,"y":424},{"x":460,"y":427},{"x":465,"y":424},{"x":470,"y":427},{"x":475,"y":424},{"x":480,"y":421},{"x":485,"y":424},{"x":490,"y":419},{"x":495,"y":421},{"x":500,"y":417},{"x":505,"y":409},{"x":510,"y":399},{"x":515,"y":389},{"x":520,"y":404},{"x":525,"y":419},{"x":530,"y":429},{"x":535,"y":424},{"x":540,"y":404},{"x":545,"y":389},{"x":550,"y":399},{"x":555,"y":414},{"x":560,"y":419},{"x":565,"y":421},{"x":570,"y":427},{"x":575,"y":419},{"x":580,"y":409},{"x":585,"y":389},{"x":590,"y":386},{"x":595,"y":399},{"x":600,"y":409},{"x":605,"y":419},{"x":610,"y":427},{"x":615,"y":431},{"x":620,"y":424},{"x":625,"y":414},{"x":630,"y":399},{"x":635,"y":419},{"x":640,"y":427},{"x":645,"y":429},{"x":650,"y":431},{"x":655,"y":439},{"x":660,"y":444},{"x":665,"y":449},{"x":670,"y":447},{"x":675,"y":444},{"x":680,"y":447},{"x":685,"y":444},{"x":690,"y":441},{"x":695,"y":444},{"x":700,"y":444},{"x":705,"y":439},{"x":710,"y":437},{"x":715,"y":441},{"x":720,"y":444},{"x":725,"y":441},{"x":730,"y":447},{"x":735,"y":439},{"x":740,"y":434},{"x":745,"y":427},{"x":750,"y":424},{"x":755,"y":417},{"x":760,"y":421},{"x":765,"y":414},{"x":770,"y":411},{"x":775,"y":404},{"x":780,"y":409},{"x":785,"y":417},{"x":790,"y":421},{"x":795,"y":414},{"x":800,"y":407},{"x":805,"y":401},{"x":810,"y":404},{"x":815,"y":394},{"x":820,"y":389},{"x":825,"y":394},{"x":830,"y":391},{"x":835,"y":399},{"x":840,"y":414},{"x":845,"y":417},{"x":850,"y":424},{"x":855,"y":421},{"x":860,"y":429},{"x":865,"y":427},{"x":870,"y":431},{"x":875,"y":429},{"x":880,"y":434},{"x":885,"y":437},{"x":890,"y":439},{"x":895,"y":441}],
"t10": [{"x":0,"y":405},{"x":5,"y":402},{"x":10,"y":405},{"x":15,"y":408},{"x":20,"y":410},{"x":25,"y":412},{"x":30,"y":415},{"x":35,"y":412},{"x":40,"y":418},{"x":45,"y":422},{"x":50,"y":418},{"x":55,"y":422},{"x":60,"y":425},{"x":65,"y":428},{"x":70,"y":430},{"x":75,"y":435},{"x":80,"y":428},{"x":85,"y":432},{"x":90,"y":425},{"x":95,"y":430},{"x":100,"y":435},{"x":105,"y":440},{"x":110,"y":432},{"x":115,"y":425},{"x":120,"y":428},{"x":125,"y":435},{"x":130,"y":438},{"x":135,"y":440},{"x":140,"y":438},{"x":145,"y":435},{"x":150,"y":432},{"x":155,"y":435},{"x":160,"y":425},{"x":165,"y":420},{"x":170,"y":418},{"x":175,"y":425},{"x":180,"y":418},{"x":185,"y":412},{"x":190,"y":420},{"x":195,"y":428},{"x":200,"y":432},{"x":205,"y":425},{"x":210,"y":428},{"x":215,"y":430},{"x":220,"y":425},{"x":225,"y":430},{"x":230,"y":425},{"x":235,"y":422},{"x":240,"y":425},{"x":245,"y":420},{"x":250,"y":418},{"x":255,"y":422},{"x":260,"y":415},{"x":265,"y":410},{"x":270,"y":408},{"x":275,"y":405},{"x":280,"y":402},{"x":285,"y":400},{"x":290,"y":398},{"x":295,"y":395},{"x":300,"y":400},{"x":305,"y":405},{"x":310,"y":412},{"x":315,"y":415},{"x":320,"y":418},{"x":325,"y":415},{"x":330,"y":425},{"x":335,"y":428},{"x":340,"y":430},{"x":345,"y":430},{"x":350,"y":432},{"x":355,"y":430},{"x":360,"y":428},{"x":365,"y":425},{"x":370,"y":422},{"x":375,"y":425},{"x":380,"y":420},{"x":385,"y":418},{"x":390,"y":420},{"x":395,"y":418},{"x":400,"y":415},{"x":405,"y":418},{"x":410,"y":415},{"x":415,"y":417},{"x":420,"y":414},{"x":425,"y":415},{"x":430,"y":412},{"x":435,"y":415},{"x":440,"y":412},{"x":445,"y":410},{"x":450,"y":412},{"x":455,"y":408},{"x":460,"y":412},{"x":465,"y":415},{"x":470,"y":410},{"x":475,"y":408},{"x":480,"y":405},{"x":485,"y":412},{"x":490,"y":415},{"x":495,"y":410},{"x":500,"y":415},{"x":505,"y":418},{"x":510,"y":412},{"x":515,"y":405},{"x":520,"y":408},{"x":525,"y":402},{"x":530,"y":405},{"x":535,"y":410},{"x":540,"y":408},{"x":545,"y":405},{"x":550,"y":408},{"x":555,"y":402},{"x":560,"y":405},{"x":565,"y":410},{"x":570,"y":412},{"x":575,"y":408},{"x":580,"y":410},{"x":585,"y":415},{"x":590,"y":418},{"x":595,"y":412},{"x":600,"y":422},{"x":605,"y":420},{"x":610,"y":415},{"x":615,"y":418},{"x":620,"y":425},{"x":625,"y":422},{"x":630,"y":428},{"x":635,"y":430},{"x":640,"y":425},{"x":645,"y":418},{"x":650,"y":425},{"x":655,"y":438},{"x":660,"y":440},{"x":665,"y":432},{"x":670,"y":430},{"x":675,"y":432},{"x":680,"y":428},{"x":685,"y":425},{"x":690,"y":430},{"x":695,"y":428},{"x":700,"y":432},{"x":705,"y":425},{"x":710,"y":430},{"x":715,"y":432},{"x":720,"y":428},{"x":725,"y":430},{"x":730,"y":432},{"x":735,"y":435},{"x":740,"y":432},{"x":745,"y":428},{"x":750,"y":425},{"x":755,"y":428},{"x":760,"y":425},{"x":765,"y":422},{"x":770,"y":425},{"x":775,"y":422},{"x":780,"y":425},{"x":785,"y":418},{"x":790,"y":415},{"x":795,"y":412},{"x":800,"y":405},{"x":805,"y":415},{"x":810,"y":418},{"x":815,"y":422},{"x":820,"y":420},{"x":825,"y":425},{"x":830,"y":422},{"x":835,"y":428},{"x":840,"y":425},{"x":845,"y":430},{"x":850,"y":428},{"x":855,"y":432},{"x":860,"y":430},{"x":865,"y":432},{"x":870,"y":435},{"x":875,"y":438},{"x":880,"y":435},{"x":885,"y":432}]
},
"spacing": 0,
"vconcat": [
{"spacing": 0, "hconcat": [
 {"width": 341, "height": 73, "layer": [
  {"data": {"values": [{}]}, "mark": {"type": "rect", "fill": "white"}, "encoding": {"x": {"datum": -95.13, "type": "quantitative", "scale": {"domain": [-64.93, 964.94], "nice": false, "zero": false}, "axis": null}, "x2": {"datum": -64.93}, "y": {"datum": 0, "type": "quantitative", "scale": {"domain": [0, 220.47], "nice": false, "zero": false}, "axis": null}, "y2": {"datum": 220.47}}},
  {"data": {"values": [{}]}, "mark": {"type": "rect", "fill": "#231815"}, "encoding": {"x": {"datum": -64.93, "type": "quantitative", "axis": null}, "x2": {"datum": 964.94}, "y": {"datum": 214.43, "type": "quantitative", "axis": null}, "y2": {"datum": 220.47}}},
  {"data": {"values": [{}]}, "mark": {"type": "rect", "fill": "#231815"}, "encoding": {"x": {"datum": -64.93, "type": "quantitative", "axis": null}, "x2": {"datum": -58.89}, "y": {"datum": 0, "type": "quantitative", "axis": null}, "y2": {"datum": 220.47}}},
  {"data": {"values": [{}]}, "mark": {"type": "text", "text": "1.2 ～", "font": "Liberation Sans, Noto Sans CJK JP", "fontSize": 28, "color": "#231815"}, "encoding": {"x": {"datum": 450, "type": "quantitative", "axis": null}, "y": {"datum": 99.7, "type": "quantitative", "axis": null}}}
 ]},
 {"width": 341, "height": 73, "layer": [
  {"data": {"values": [{}]}, "mark": {"type": "rect", "fill": "#231815"}, "encoding": {"x": {"datum": -64.93, "type": "quantitative", "scale": {"domain": [-64.93, 964.94], "nice": false, "zero": false}, "axis": null}, "x2": {"datum": 964.94}, "y": {"datum": 214.43, "type": "quantitative", "scale": {"domain": [0, 220.47], "nice": false, "zero": false}, "axis": null}, "y2": {"datum": 220.47}}},
  {"data": {"values": [{}]}, "mark": {"type": "rect", "fill": "#231815"}, "encoding": {"x": {"datum": -64.93, "type": "quantitative", "axis": null}, "x2": {"datum": -58.89}, "y": {"datum": 0, "type": "quantitative", "axis": null}, "y2": {"datum": 220.47}}},
  {"data": {"values": [{}]}, "mark": {"type": "text", "text": "0.5 ～", "font": "Liberation Sans, Noto Sans CJK JP", "fontSize": 28, "color": "#231815"}, "encoding": {"x": {"datum": 450, "type": "quantitative", "axis": null}, "y": {"datum": 99.7, "type": "quantitative", "axis": null}}}
 ]},
 {"width": 341, "height": 73, "layer": [
  {"data": {"values": [{}]}, "mark": {"type": "rect", "fill": "#231815"}, "encoding": {"x": {"datum": -64.93, "type": "quantitative", "scale": {"domain": [-64.93, 964.94], "nice": false, "zero": false}, "axis": null}, "x2": {"datum": 964.94}, "y": {"datum": 214.43, "type": "quantitative", "scale": {"domain": [0, 220.47], "nice": false, "zero": false}, "axis": null}, "y2": {"datum": 220.47}}},
  {"data": {"values": [{}]}, "mark": {"type": "rect", "fill": "#231815"}, "encoding": {"x": {"datum": -64.93, "type": "quantitative", "axis": null}, "x2": {"datum": -58.89}, "y": {"datum": 0, "type": "quantitative", "axis": null}, "y2": {"datum": 220.47}}},
  {"data": {"values": [{}]}, "mark": {"type": "text", "text": "0.3 ～", "font": "Liberation Sans, Noto Sans CJK JP", "fontSize": 28, "color": "#231815"}, "encoding": {"x": {"datum": 450, "type": "quantitative", "axis": null}, "y": {"datum": 99.7, "type": "quantitative", "axis": null}}}
 ]},
 {"width": 333, "height": 73, "layer": [
  {"data": {"values": [{}]}, "mark": {"type": "rect", "fill": "#231815"}, "encoding": {"x": {"datum": -64.93, "type": "quantitative", "scale": {"domain": [-64.93, 940.77], "nice": false, "zero": false}, "axis": null}, "x2": {"datum": 940.77}, "y": {"datum": 214.43, "type": "quantitative", "scale": {"domain": [0, 220.47], "nice": false, "zero": false}, "axis": null}, "y2": {"datum": 220.47}}},
  {"data": {"values": [{}]}, "mark": {"type": "rect", "fill": "#231815"}, "encoding": {"x": {"datum": -64.93, "type": "quantitative", "axis": null}, "x2": {"datum": -58.89}, "y": {"datum": 0, "type": "quantitative", "axis": null}, "y2": {"datum": 220.47}}}
 ]}
]},
{"spacing": 0, "hconcat": [
 {"spacing": 0, "vconcat": [
  {"spacing": 0, "hconcat": [
   {"width": 341, "height": 371, "layer": [
    {"data": {"values": [{}]}, "mark": {"type": "rect", "fill": "#231815"}, "encoding": {"x": {"datum": -95.13, "type": "quantitative", "scale": {"domain": [-64.93, 964.94], "nice": false, "zero": false}, "axis": null}, "x2": {"datum": 964.94}, "y": {"datum": 960.4, "type": "quantitative", "scale": {"domain": [-154.03, 966.44], "nice": false, "zero": false}, "axis": null}, "y2": {"datum": 966.44}}},
    {"data": {"values": [{}]}, "mark": {"type": "rect", "fill": "#231815"}, "encoding": {"x": {"datum": -64.93, "type": "quantitative", "axis": null}, "x2": {"datum": -58.89}, "y": {"datum": -154.03, "type": "quantitative", "axis": null}, "y2": {"datum": 966.44}}},
    {"data": {"values": [{}]}, "mark": {"type": "rect", "fill": "#9ed8f4"}, "encoding": {"x": {"datum": 0, "type": "quantitative", "axis": null}, "x2": {"datum": 900}, "y": {"datum": 0, "type": "quantitative", "axis": null}, "y2": {"datum": 900}}},
    {"data": {"name": "grid"}, "mark": "rule", "encoding": {"x": {"field": "x", "type": "quantitative", "axis": null}, "x2": {"field": "x2"}, "y": {"field": "y", "type": "quantitative", "axis": null}, "y2": {"field": "y2"}, "color": {"condition": [{"test": "datum.k === 'minor'", "value": "#7e9fb4"}, {"test": "datum.k === 'edge'", "value": "#939393"}], "value": "#6e6e6e"}, "strokeWidth": {"condition": {"test": "datum.k === 'minor'", "value": 1.3}, "value": 2.6}}},
    {"data": {"name": "t1"}, "mark": {"type": "line", "color": "#231815", "strokeWidth": 2.6, "strokeJoin": "round"}, "encoding": {"x": {"field": "x", "type": "quantitative", "axis": null}, "y": {"field": "y", "type": "quantitative", "axis": null}}},
    {"data": {"values": [{}]}, "mark": {"type": "text", "text": "三和するが砥石　#2000", "font": "Liberation Sans, Noto Sans CJK JP", "fontSize": 28, "color": "#231815"}, "encoding": {"x": {"datum": 450, "type": "quantitative", "axis": null}, "y": {"datum": -89, "type": "quantitative", "axis": null}}}
   ]},
   {"width": 341, "height": 371, "layer": [
    {"data": {"values": [{}]}, "mark": {"type": "rect", "fill": "#231815"}, "encoding": {"x": {"datum": -64.93, "type": "quantitative", "scale": {"domain": [-64.93, 964.94], "nice": false, "zero": false}, "axis": null}, "x2": {"datum": 964.94}, "y": {"datum": 960.4, "type": "quantitative", "scale": {"domain": [-154.03, 966.44], "nice": false, "zero": false}, "axis": null}, "y2": {"datum": 966.44}}},
    {"data": {"values": [{}]}, "mark": {"type": "rect", "fill": "#231815"}, "encoding": {"x": {"datum": -64.93, "type": "quantitative", "axis": null}, "x2": {"datum": -58.89}, "y": {"datum": -154.03, "type": "quantitative", "axis": null}, "y2": {"datum": 966.44}}},
    {"data": {"values": [{}]}, "mark": {"type": "rect", "fill": "#9ed8f4"}, "encoding": {"x": {"datum": 0, "type": "quantitative", "axis": null}, "x2": {"datum": 900}, "y": {"datum": 0, "type": "quantitative", "axis": null}, "y2": {"datum": 900}}},
    {"data": {"name": "grid"}, "mark": "rule", "encoding": {"x": {"field": "x", "type": "quantitative", "axis": null}, "x2": {"field": "x2"}, "y": {"field": "y", "type": "quantitative", "axis": null}, "y2": {"field": "y2"}, "color": {"condition": [{"test": "datum.k === 'minor'", "value": "#7e9fb4"}, {"test": "datum.k === 'edge'", "value": "#939393"}], "value": "#6e6e6e"}, "strokeWidth": {"condition": {"test": "datum.k === 'minor'", "value": 1.3}, "value": 2.6}}},
    {"data": {"name": "t2"}, "mark": {"type": "line", "color": "#231815", "strokeWidth": 2.6, "strokeJoin": "round"}, "encoding": {"x": {"field": "x", "type": "quantitative", "axis": null}, "y": {"field": "y", "type": "quantitative", "axis": null}}},
    {"data": {"values": [{}]}, "mark": {"type": "text", "text": "三和呂色砥石　#3000", "font": "Liberation Sans, Noto Sans CJK JP", "fontSize": 28, "color": "#231815"}, "encoding": {"x": {"datum": 450, "type": "quantitative", "axis": null}, "y": {"datum": -89, "type": "quantitative", "axis": null}}}
   ]},
   {"width": 341, "height": 371, "layer": [
    {"data": {"values": [{}]}, "mark": {"type": "rect", "fill": "#231815"}, "encoding": {"x": {"datum": -64.93, "type": "quantitative", "scale": {"domain": [-64.93, 964.94], "nice": false, "zero": false}, "axis": null}, "x2": {"datum": 964.94}, "y": {"datum": 960.4, "type": "quantitative", "scale": {"domain": [-154.03, 966.44], "nice": false, "zero": false}, "axis": null}, "y2": {"datum": 966.44}}},
    {"data": {"values": [{}]}, "mark": {"type": "rect", "fill": "#231815"}, "encoding": {"x": {"datum": -64.93, "type": "quantitative", "axis": null}, "x2": {"datum": -58.89}, "y": {"datum": -154.03, "type": "quantitative", "axis": null}, "y2": {"datum": 966.44}}},
    {"data": {"values": [{}]}, "mark": {"type": "rect", "fill": "#9ed8f4"}, "encoding": {"x": {"datum": 0, "type": "quantitative", "axis": null}, "x2": {"datum": 900}, "y": {"datum": 0, "type": "quantitative", "axis": null}, "y2": {"datum": 900}}},
    {"data": {"name": "grid"}, "mark": "rule", "encoding": {"x": {"field": "x", "type": "quantitative", "axis": null}, "x2": {"field": "x2"}, "y": {"field": "y", "type": "quantitative", "axis": null}, "y2": {"field": "y2"}, "color": {"condition": [{"test": "datum.k === 'minor'", "value": "#7e9fb4"}, {"test": "datum.k === 'edge'", "value": "#939393"}], "value": "#6e6e6e"}, "strokeWidth": {"condition": {"test": "datum.k === 'minor'", "value": 1.3}, "value": 2.6}}},
    {"data": {"name": "t3"}, "mark": {"type": "line", "color": "#231815", "strokeWidth": 2.6, "strokeJoin": "round"}, "encoding": {"x": {"field": "x", "type": "quantitative", "axis": null}, "y": {"field": "y", "type": "quantitative", "axis": null}}},
    {"data": {"values": [{}]}, "mark": {"type": "text", "text": "三和呂色砥石　#4000", "font": "Liberation Sans, Noto Sans CJK JP", "fontSize": 28, "color": "#231815"}, "encoding": {"x": {"datum": 450, "type": "quantitative", "axis": null}, "y": {"datum": -89, "type": "quantitative", "axis": null}}}
   ]}
  ]},
  {"spacing": 0, "hconcat": [
   {"width": 341, "height": 371, "layer": [
    {"data": {"values": [{}]}, "mark": {"type": "rect", "fill": "#231815"}, "encoding": {"x": {"datum": -95.13, "type": "quantitative", "scale": {"domain": [-64.93, 964.94], "nice": false, "zero": false}, "axis": null}, "x2": {"datum": 964.94}, "y": {"datum": 960.4, "type": "quantitative", "scale": {"domain": [-154.03, 966.44], "nice": false, "zero": false}, "axis": null}, "y2": {"datum": 966.44}}},
    {"data": {"values": [{}]}, "mark": {"type": "rect", "fill": "#231815"}, "encoding": {"x": {"datum": -64.93, "type": "quantitative", "axis": null}, "x2": {"datum": -58.89}, "y": {"datum": -154.03, "type": "quantitative", "axis": null}, "y2": {"datum": 966.44}}}
   ]},
   {"width": 341, "height": 371, "layer": [
    {"data": {"values": [{}]}, "mark": {"type": "rect", "fill": "#231815"}, "encoding": {"x": {"datum": -64.93, "type": "quantitative", "scale": {"domain": [-64.93, 964.94], "nice": false, "zero": false}, "axis": null}, "x2": {"datum": 964.94}, "y": {"datum": 960.4, "type": "quantitative", "scale": {"domain": [-154.03, 966.44], "nice": false, "zero": false}, "axis": null}, "y2": {"datum": 966.44}}},
    {"data": {"values": [{}]}, "mark": {"type": "rect", "fill": "#231815"}, "encoding": {"x": {"datum": -64.93, "type": "quantitative", "axis": null}, "x2": {"datum": -58.89}, "y": {"datum": -154.03, "type": "quantitative", "axis": null}, "y2": {"datum": 966.44}}},
    {"data": {"values": [{}]}, "mark": {"type": "rect", "fill": "#9ed8f4"}, "encoding": {"x": {"datum": 0, "type": "quantitative", "axis": null}, "x2": {"datum": 900}, "y": {"datum": 0, "type": "quantitative", "axis": null}, "y2": {"datum": 900}}},
    {"data": {"name": "grid"}, "mark": "rule", "encoding": {"x": {"field": "x", "type": "quantitative", "axis": null}, "x2": {"field": "x2"}, "y": {"field": "y", "type": "quantitative", "axis": null}, "y2": {"field": "y2"}, "color": {"condition": [{"test": "datum.k === 'minor'", "value": "#7e9fb4"}, {"test": "datum.k === 'edge'", "value": "#939393"}], "value": "#6e6e6e"}, "strokeWidth": {"condition": {"test": "datum.k === 'minor'", "value": 1.3}, "value": 2.6}}},
    {"data": {"name": "t4"}, "mark": {"type": "line", "color": "#231815", "strokeWidth": 2.6, "strokeJoin": "round"}, "encoding": {"x": {"field": "x", "type": "quantitative", "axis": null}, "y": {"field": "y", "type": "quantitative", "axis": null}}},
    {"data": {"values": [{}]}, "mark": {"type": "text", "text": "呂色炭", "font": "Liberation Sans, Noto Sans CJK JP", "fontSize": 28, "color": "#231815"}, "encoding": {"x": {"datum": 450, "type": "quantitative", "axis": null}, "y": {"datum": -89, "type": "quantitative", "axis": null}}}
   ]},
   {"width": 341, "height": 371, "layer": [
    {"data": {"values": [{}]}, "mark": {"type": "rect", "fill": "#231815"}, "encoding": {"x": {"datum": -64.93, "type": "quantitative", "scale": {"domain": [-64.93, 964.94], "nice": false, "zero": false}, "axis": null}, "x2": {"datum": 964.94}, "y": {"datum": 960.4, "type": "quantitative", "scale": {"domain": [-154.03, 966.44], "nice": false, "zero": false}, "axis": null}, "y2": {"datum": 966.44}}},
    {"data": {"values": [{}]}, "mark": {"type": "rect", "fill": "#231815"}, "encoding": {"x": {"datum": -64.93, "type": "quantitative", "axis": null}, "x2": {"datum": -58.89}, "y": {"datum": -154.03, "type": "quantitative", "axis": null}, "y2": {"datum": 966.44}}}
   ]}
  ]},
  {"spacing": 0, "hconcat": [
   {"width": 341, "height": 371, "layer": [
    {"data": {"values": [{}]}, "mark": {"type": "rect", "fill": "#231815"}, "encoding": {"x": {"datum": -95.13, "type": "quantitative", "scale": {"domain": [-64.93, 964.94], "nice": false, "zero": false}, "axis": null}, "x2": {"datum": 964.94}, "y": {"datum": 960.4, "type": "quantitative", "scale": {"domain": [-154.03, 966.44], "nice": false, "zero": false}, "axis": null}, "y2": {"datum": 966.44}}},
    {"data": {"values": [{}]}, "mark": {"type": "rect", "fill": "#231815"}, "encoding": {"x": {"datum": -64.93, "type": "quantitative", "axis": null}, "x2": {"datum": -58.89}, "y": {"datum": -154.03, "type": "quantitative", "axis": null}, "y2": {"datum": 966.44}}},
    {"data": {"values": [{}]}, "mark": {"type": "rect", "fill": "#9ed8f4"}, "encoding": {"x": {"datum": 0, "type": "quantitative", "axis": null}, "x2": {"datum": 900}, "y": {"datum": 0, "type": "quantitative", "axis": null}, "y2": {"datum": 900}}},
    {"data": {"name": "grid"}, "mark": "rule", "encoding": {"x": {"field": "x", "type": "quantitative", "axis": null}, "x2": {"field": "x2"}, "y": {"field": "y", "type": "quantitative", "axis": null}, "y2": {"field": "y2"}, "color": {"condition": [{"test": "datum.k === 'minor'", "value": "#7e9fb4"}, {"test": "datum.k === 'edge'", "value": "#939393"}], "value": "#6e6e6e"}, "strokeWidth": {"condition": {"test": "datum.k === 'minor'", "value": 1.3}, "value": 2.6}}},
    {"data": {"name": "t5"}, "mark": {"type": "line", "color": "#231815", "strokeWidth": 2.6, "strokeJoin": "round"}, "encoding": {"x": {"field": "x", "type": "quantitative", "axis": null}, "y": {"field": "y", "type": "quantitative", "axis": null}}},
    {"data": {"values": [{}]}, "mark": {"type": "text", "text": "P.V.A 系弾性砥石 #1000", "font": "Liberation Sans, Noto Sans CJK JP", "fontSize": 28, "color": "#231815"}, "encoding": {"x": {"datum": 450, "type": "quantitative", "axis": null}, "y": {"datum": -87, "type": "quantitative", "axis": null}}}
   ]},
   {"width": 341, "height": 371, "layer": [
    {"data": {"values": [{}]}, "mark": {"type": "rect", "fill": "#231815"}, "encoding": {"x": {"datum": -64.93, "type": "quantitative", "scale": {"domain": [-64.93, 964.94], "nice": false, "zero": false}, "axis": null}, "x2": {"datum": 964.94}, "y": {"datum": 960.4, "type": "quantitative", "scale": {"domain": [-154.03, 966.44], "nice": false, "zero": false}, "axis": null}, "y2": {"datum": 966.44}}},
    {"data": {"values": [{}]}, "mark": {"type": "rect", "fill": "#231815"}, "encoding": {"x": {"datum": -64.93, "type": "quantitative", "axis": null}, "x2": {"datum": -58.89}, "y": {"datum": -154.03, "type": "quantitative", "axis": null}, "y2": {"datum": 966.44}}},
    {"data": {"values": [{}]}, "mark": {"type": "rect", "fill": "#9ed8f4"}, "encoding": {"x": {"datum": 0, "type": "quantitative", "axis": null}, "x2": {"datum": 900}, "y": {"datum": 0, "type": "quantitative", "axis": null}, "y2": {"datum": 900}}},
    {"data": {"name": "grid"}, "mark": "rule", "encoding": {"x": {"field": "x", "type": "quantitative", "axis": null}, "x2": {"field": "x2"}, "y": {"field": "y", "type": "quantitative", "axis": null}, "y2": {"field": "y2"}, "color": {"condition": [{"test": "datum.k === 'minor'", "value": "#7e9fb4"}, {"test": "datum.k === 'edge'", "value": "#939393"}], "value": "#6e6e6e"}, "strokeWidth": {"condition": {"test": "datum.k === 'minor'", "value": 1.3}, "value": 2.6}}},
    {"data": {"name": "t6"}, "mark": {"type": "line", "color": "#231815", "strokeWidth": 2.6, "strokeJoin": "round"}, "encoding": {"x": {"field": "x", "type": "quantitative", "axis": null}, "y": {"field": "y", "type": "quantitative", "axis": null}}},
    {"data": {"values": [{}]}, "mark": {"type": "text", "text": "P.V.A 系弾性砥石 #1500", "font": "Liberation Sans, Noto Sans CJK JP", "fontSize": 28, "color": "#231815"}, "encoding": {"x": {"datum": 450, "type": "quantitative", "axis": null}, "y": {"datum": -87, "type": "quantitative", "axis": null}}}
   ]},
   {"width": 341, "height": 371, "layer": [
    {"data": {"values": [{}]}, "mark": {"type": "rect", "fill": "#231815"}, "encoding": {"x": {"datum": -64.93, "type": "quantitative", "scale": {"domain": [-64.93, 964.94], "nice": false, "zero": false}, "axis": null}, "x2": {"datum": 964.94}, "y": {"datum": 960.4, "type": "quantitative", "scale": {"domain": [-154.03, 966.44], "nice": false, "zero": false}, "axis": null}, "y2": {"datum": 966.44}}},
    {"data": {"values": [{}]}, "mark": {"type": "rect", "fill": "#231815"}, "encoding": {"x": {"datum": -64.93, "type": "quantitative", "axis": null}, "x2": {"datum": -58.89}, "y": {"datum": -154.03, "type": "quantitative", "axis": null}, "y2": {"datum": 966.44}}},
    {"data": {"values": [{}]}, "mark": {"type": "rect", "fill": "#9ed8f4"}, "encoding": {"x": {"datum": 0, "type": "quantitative", "axis": null}, "x2": {"datum": 900}, "y": {"datum": 0, "type": "quantitative", "axis": null}, "y2": {"datum": 900}}},
    {"data": {"name": "grid"}, "mark": "rule", "encoding": {"x": {"field": "x", "type": "quantitative", "axis": null}, "x2": {"field": "x2"}, "y": {"field": "y", "type": "quantitative", "axis": null}, "y2": {"field": "y2"}, "color": {"condition": [{"test": "datum.k === 'minor'", "value": "#7e9fb4"}, {"test": "datum.k === 'edge'", "value": "#939393"}], "value": "#6e6e6e"}, "strokeWidth": {"condition": {"test": "datum.k === 'minor'", "value": 1.3}, "value": 2.6}}},
    {"data": {"name": "t7"}, "mark": {"type": "line", "color": "#231815", "strokeWidth": 2.6, "strokeJoin": "round"}, "encoding": {"x": {"field": "x", "type": "quantitative", "axis": null}, "y": {"field": "y", "type": "quantitative", "axis": null}}},
    {"data": {"values": [{}]}, "mark": {"type": "text", "text": "P.V.A 系弾性砥石 #2000", "font": "Liberation Sans, Noto Sans CJK JP", "fontSize": 28, "color": "#231815"}, "encoding": {"x": {"datum": 450, "type": "quantitative", "axis": null}, "y": {"datum": -87, "type": "quantitative", "axis": null}}}
   ]}
  ]},
  {"spacing": 0, "hconcat": [
   {"width": 341, "height": 364, "layer": [
    {"data": {"values": [{}]}, "mark": {"type": "rect", "fill": "#231815"}, "encoding": {"x": {"datum": -95.13, "type": "quantitative", "scale": {"domain": [-64.93, 964.94], "nice": false, "zero": false}, "axis": null}, "x2": {"datum": 964.94}, "y": {"datum": 960.4, "type": "quantitative", "scale": {"domain": [-132.89, 966.44], "nice": false, "zero": false}, "axis": null}, "y2": {"datum": 966.44}}},
    {"data": {"values": [{}]}, "mark": {"type": "rect", "fill": "#231815"}, "encoding": {"x": {"datum": -64.93, "type": "quantitative", "axis": null}, "x2": {"datum": -58.89}, "y": {"datum": -132.89, "type": "quantitative", "axis": null}, "y2": {"datum": 966.44}}},
    {"data": {"values": [{}]}, "mark": {"type": "rect", "fill": "#9ed8f4"}, "encoding": {"x": {"datum": 0, "type": "quantitative", "axis": null}, "x2": {"datum": 900}, "y": {"datum": 0, "type": "quantitative", "axis": null}, "y2": {"datum": 900}}},
    {"data": {"name": "grid"}, "mark": "rule", "encoding": {"x": {"field": "x", "type": "quantitative", "axis": null}, "x2": {"field": "x2"}, "y": {"field": "y", "type": "quantitative", "axis": null}, "y2": {"field": "y2"}, "color": {"condition": [{"test": "datum.k === 'minor'", "value": "#7e9fb4"}, {"test": "datum.k === 'edge'", "value": "#939393"}], "value": "#6e6e6e"}, "strokeWidth": {"condition": {"test": "datum.k === 'minor'", "value": 1.3}, "value": 2.6}}},
    {"data": {"name": "t8"}, "mark": {"type": "line", "color": "#231815", "strokeWidth": 2.6, "strokeJoin": "round"}, "encoding": {"x": {"field": "x", "type": "quantitative", "axis": null}, "y": {"field": "y", "type": "quantitative", "axis": null}}},
    {"data": {"values": [{}]}, "mark": {"type": "text", "text": "耐水研磨紙　#1500", "font": "Liberation Sans, Noto Sans CJK JP", "fontSize": 28, "color": "#231815"}, "encoding": {"x": {"datum": 450, "type": "quantitative", "axis": null}, "y": {"datum": -87, "type": "quantitative", "axis": null}}}
   ]},
   {"width": 341, "height": 364, "layer": [
    {"data": {"values": [{}]}, "mark": {"type": "rect", "fill": "#231815"}, "encoding": {"x": {"datum": -64.93, "type": "quantitative", "scale": {"domain": [-64.93, 964.94], "nice": false, "zero": false}, "axis": null}, "x2": {"datum": 964.94}, "y": {"datum": 960.4, "type": "quantitative", "scale": {"domain": [-132.89, 966.44], "nice": false, "zero": false}, "axis": null}, "y2": {"datum": 966.44}}},
    {"data": {"values": [{}]}, "mark": {"type": "rect", "fill": "#231815"}, "encoding": {"x": {"datum": -64.93, "type": "quantitative", "axis": null}, "x2": {"datum": -58.89}, "y": {"datum": -132.89, "type": "quantitative", "axis": null}, "y2": {"datum": 966.44}}}
   ]},
   {"width": 341, "height": 364, "layer": [
    {"data": {"values": [{}]}, "mark": {"type": "rect", "fill": "#231815"}, "encoding": {"x": {"datum": -64.93, "type": "quantitative", "scale": {"domain": [-64.93, 964.94], "nice": false, "zero": false}, "axis": null}, "x2": {"datum": 964.94}, "y": {"datum": 960.4, "type": "quantitative", "scale": {"domain": [-132.89, 966.44], "nice": false, "zero": false}, "axis": null}, "y2": {"datum": 966.44}}},
    {"data": {"values": [{}]}, "mark": {"type": "rect", "fill": "#231815"}, "encoding": {"x": {"datum": -64.93, "type": "quantitative", "axis": null}, "x2": {"datum": -58.89}, "y": {"datum": -132.89, "type": "quantitative", "axis": null}, "y2": {"datum": 966.44}}}
   ]}
  ]}
 ]},
 {"spacing": 0, "vconcat": [
  {"width": 333, "height": 742, "layer": [
   {"data": {"values": [{}]}, "mark": {"type": "rect", "fill": "#231815"}, "encoding": {"x": {"datum": -64.93, "type": "quantitative", "scale": {"domain": [-64.93, 940.77], "nice": false, "zero": false}, "axis": null}, "x2": {"datum": 940.77}, "y": {"datum": 1567.44, "type": "quantitative", "scale": {"domain": [-667.43, 1573.48], "nice": false, "zero": false}, "axis": null}, "y2": {"datum": 1573.48}}},
   {"data": {"values": [{}]}, "mark": {"type": "rect", "fill": "#231815"}, "encoding": {"x": {"datum": -64.93, "type": "quantitative", "axis": null}, "x2": {"datum": -58.89}, "y": {"datum": -667.43, "type": "quantitative", "axis": null}, "y2": {"datum": 1573.48}}},
   {"data": {"values": [{}]}, "mark": {"type": "rect", "fill": "#9ed8f4"}, "encoding": {"x": {"datum": 0, "type": "quantitative", "axis": null}, "x2": {"datum": 900}, "y": {"datum": 0, "type": "quantitative", "axis": null}, "y2": {"datum": 900}}},
   {"data": {"name": "grid"}, "mark": "rule", "encoding": {"x": {"field": "x", "type": "quantitative", "axis": null}, "x2": {"field": "x2"}, "y": {"field": "y", "type": "quantitative", "axis": null}, "y2": {"field": "y2"}, "color": {"condition": [{"test": "datum.k === 'minor'", "value": "#7e9fb4"}, {"test": "datum.k === 'edge'", "value": "#939393"}], "value": "#6e6e6e"}, "strokeWidth": {"condition": {"test": "datum.k === 'minor'", "value": 1.3}, "value": 2.6}}},
   {"data": {"name": "t9"}, "mark": {"type": "line", "color": "#231815", "strokeWidth": 2.6, "strokeJoin": "round"}, "encoding": {"x": {"field": "x", "type": "quantitative", "axis": null}, "y": {"field": "y", "type": "quantitative", "axis": null}}},
   {"data": {"values": [{}]}, "mark": {"type": "text", "text": "三和するが砥石", "align": "left", "font": "Liberation Sans, Noto Sans CJK JP", "fontSize": 27, "color": "#231815"}, "encoding": {"x": {"datum": 0, "type": "quantitative", "axis": null}, "y": {"datum": -142, "type": "quantitative", "axis": null}}},
   {"data": {"values": [{}]}, "mark": {"type": "text", "text": "#1000", "align": "right", "font": "Liberation Sans, Noto Sans CJK JP", "fontSize": 28, "color": "#231815"}, "encoding": {"x": {"datum": 907.5, "type": "quantitative", "axis": null}, "y": {"datum": -142, "type": "quantitative", "axis": null}}},
   {"data": {"values": [{}]}, "mark": {"type": "text", "text": "⇩", "font": "DejaVu Sans", "fontSize": 26, "color": "#231815"}, "encoding": {"x": {"datum": 451, "type": "quantitative", "axis": null}, "y": {"datum": -232, "type": "quantitative", "axis": null}}},
   {"data": {"values": [{}]}, "mark": {"type": "text", "text": "三 和 呂 色 砥 石", "align": "left", "font": "Liberation Sans, Noto Sans CJK JP", "fontSize": 27, "color": "#231815"}, "encoding": {"x": {"datum": 0, "type": "quantitative", "axis": null}, "y": {"datum": -320, "type": "quantitative", "axis": null}}},
   {"data": {"values": [{}]}, "mark": {"type": "text", "text": "#3000", "align": "right", "font": "Liberation Sans, Noto Sans CJK JP", "fontSize": 28, "color": "#231815"}, "encoding": {"x": {"datum": 907.5, "type": "quantitative", "axis": null}, "y": {"datum": -320, "type": "quantitative", "axis": null}}}
  ]},
  {"width": 333, "height": 735, "layer": [
   {"data": {"values": [{}]}, "mark": {"type": "rect", "fill": "#231815"}, "encoding": {"x": {"datum": -64.93, "type": "quantitative", "scale": {"domain": [-64.93, 940.77], "nice": false, "zero": false}, "axis": null}, "x2": {"datum": 940.77}, "y": {"datum": 1567.44, "type": "quantitative", "scale": {"domain": [-646.29, 1573.48], "nice": false, "zero": false}, "axis": null}, "y2": {"datum": 1573.48}}},
   {"data": {"values": [{}]}, "mark": {"type": "rect", "fill": "#231815"}, "encoding": {"x": {"datum": -64.93, "type": "quantitative", "axis": null}, "x2": {"datum": -58.89}, "y": {"datum": -646.29, "type": "quantitative", "axis": null}, "y2": {"datum": 1573.48}}},
   {"data": {"values": [{}]}, "mark": {"type": "rect", "fill": "#9ed8f4"}, "encoding": {"x": {"datum": 0, "type": "quantitative", "axis": null}, "x2": {"datum": 900}, "y": {"datum": 0, "type": "quantitative", "axis": null}, "y2": {"datum": 900}}},
   {"data": {"name": "grid"}, "mark": "rule", "encoding": {"x": {"field": "x", "type": "quantitative", "axis": null}, "x2": {"field": "x2"}, "y": {"field": "y", "type": "quantitative", "axis": null}, "y2": {"field": "y2"}, "color": {"condition": [{"test": "datum.k === 'minor'", "value": "#7e9fb4"}, {"test": "datum.k === 'edge'", "value": "#939393"}], "value": "#6e6e6e"}, "strokeWidth": {"condition": {"test": "datum.k === 'minor'", "value": 1.3}, "value": 2.6}}},
   {"data": {"name": "t10"}, "mark": {"type": "line", "color": "#231815", "strokeWidth": 2.6, "strokeJoin": "round"}, "encoding": {"x": {"field": "x", "type": "quantitative", "axis": null}, "y": {"field": "y", "type": "quantitative", "axis": null}}},
   {"data": {"values": [{}]}, "mark": {"type": "text", "text": "三和するが砥石", "align": "left", "font": "Liberation Sans, Noto Sans CJK JP", "fontSize": 27, "color": "#231815"}, "encoding": {"x": {"datum": 0, "type": "quantitative", "axis": null}, "y": {"datum": -139, "type": "quantitative", "axis": null}}},
   {"data": {"values": [{}]}, "mark": {"type": "text", "text": "#1000", "align": "right", "font": "Liberation Sans, Noto Sans CJK JP", "fontSize": 28, "color": "#231815"}, "encoding": {"x": {"datum": 907.5, "type": "quantitative", "axis": null}, "y": {"datum": -139, "type": "quantitative", "axis": null}}},
   {"data": {"values": [{}]}, "mark": {"type": "text", "text": "⇩", "font": "DejaVu Sans", "fontSize": 26, "color": "#231815"}, "encoding": {"x": {"datum": 451, "type": "quantitative", "axis": null}, "y": {"datum": -227, "type": "quantitative", "axis": null}}},
   {"data": {"values": [{}]}, "mark": {"type": "text", "text": "三和するが砥石", "align": "left", "font": "Liberation Sans, Noto Sans CJK JP", "fontSize": 27, "color": "#231815"}, "encoding": {"x": {"datum": 0, "type": "quantitative", "axis": null}, "y": {"datum": -320, "type": "quantitative", "axis": null}}},
   {"data": {"values": [{}]}, "mark": {"type": "text", "text": "#2000", "align": "right", "font": "Liberation Sans, Noto Sans CJK JP", "fontSize": 28, "color": "#231815"}, "encoding": {"x": {"datum": 907.5, "type": "quantitative", "axis": null}, "y": {"datum": -320, "type": "quantitative", "axis": null}}},
   {"data": {"values": [{}]}, "mark": {"type": "text", "text": "⇩", "font": "DejaVu Sans", "fontSize": 26, "color": "#231815"}, "encoding": {"x": {"datum": 451, "type": "quantitative", "axis": null}, "y": {"datum": -408, "type": "quantitative", "axis": null}}},
   {"data": {"values": [{}]}, "mark": {"type": "text", "text": "三 和 呂 色 砥 石", "align": "left", "font": "Liberation Sans, Noto Sans CJK JP", "fontSize": 27, "color": "#231815"}, "encoding": {"x": {"datum": 0, "type": "quantitative", "axis": null}, "y": {"datum": -498, "type": "quantitative", "axis": null}}},
   {"data": {"values": [{}]}, "mark": {"type": "text", "text": "#3000", "align": "right", "font": "Liberation Sans, Noto Sans CJK JP", "fontSize": 28, "color": "#231815"}, "encoding": {"x": {"datum": 907.5, "type": "quantitative", "axis": null}, "y": {"datum": -498, "type": "quantitative", "axis": null}}}
  ]}
 ]}
]}
]
}
